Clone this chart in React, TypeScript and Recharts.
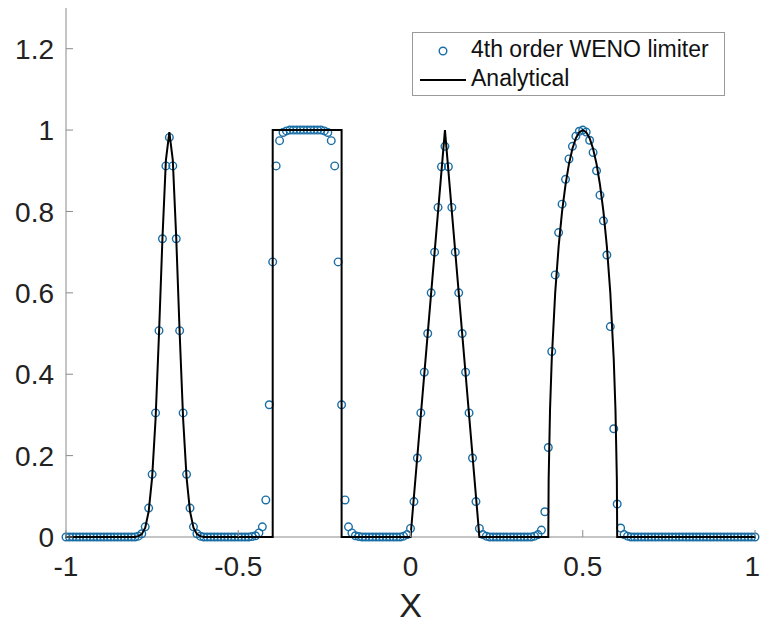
import { ComposedChart, Scatter, Line, XAxis, YAxis } from 'recharts'

// WENO solution sampled on the uniform mesh x = -1, -0.99, ..., 1 (201 cells)
const wenoY = [
  0, 0, 0, 0, 0, 0, 0, 0, 0, 0, // -1.00 .. -0.91
  0, 0, 0, 0, 0, 0, 0, 0, 0, 0, // -0.90 .. -0.81
  0, 0.002, 0.008, 0.025, 0.071, 0.154, 0.305, 0.507, 0.733, 0.912, // -0.80 .. -0.71
  0.982, 0.912, 0.733, 0.507, 0.305, 0.154, 0.071, 0.025, 0.008, 0.002, // -0.70 .. -0.61
  0, 0, 0, 0, 0, 0, 0, 0, 0, 0, // -0.60 .. -0.51
  0, 0, 0, 0, 0.001, 0.003, 0.01, 0.025, 0.091, 0.325, // -0.50 .. -0.41
  0.676, 0.912, 0.974, 0.994, 0.998, 1, 1, 1, 1, 1, // -0.40 .. -0.31
  1, 1, 1, 1, 1, 0.998, 0.994, 0.974, 0.912, 0.676, // -0.30 .. -0.21
  0.325, 0.091, 0.025, 0.01, 0.003, 0.001, 0, 0, 0, 0, // -0.20 .. -0.11
  0, 0, 0, 0, 0, 0, 0, 0, 0.002, 0.006, // -0.10 .. -0.01
  0.021, 0.087, 0.194, 0.305, 0.405, 0.5, 0.6, 0.7, 0.81, 0.91, // 0.00 .. 0.09
  0.96, 0.91, 0.81, 0.7, 0.6, 0.5, 0.405, 0.305, 0.194, 0.087, // 0.10 .. 0.19
  0.021, 0.006, 0.002, 0, 0, 0, 0, 0, 0, 0, // 0.20 .. 0.29
  0, 0, 0, 0, 0, 0, 0.002, 0.006, 0.017, 0.062, // 0.30 .. 0.39
  0.22, 0.456, 0.644, 0.748, 0.818, 0.879, 0.929, 0.96, 0.985, 0.997, // 0.40 .. 0.49
  1, 0.995, 0.975, 0.945, 0.9, 0.84, 0.777, 0.693, 0.517, 0.266, // 0.50 .. 0.59
  0.081, 0.022, 0.006, 0.002, 0, 0, 0, 0, 0, 0, // 0.60 .. 0.69
  0, 0, 0, 0, 0, 0, 0, 0, 0, 0, // 0.70 .. 0.79
  0, 0, 0, 0, 0, 0, 0, 0, 0, 0, // 0.80 .. 0.89
  0, 0, 0, 0, 0, 0, 0, 0, 0, 0, // 0.90 .. 0.99
  0, // 1.00
]

// analytical solution: gaussian, square, triangle, ellipse
const exactX = [
  -1, -0.8, -0.79, -0.78, -0.77, -0.76, -0.75, -0.74, -0.73, -0.72, -0.71, -0.7,
  -0.69, -0.68, -0.67, -0.66, -0.65, -0.64, -0.63, -0.62, -0.61, -0.6,
  -0.4, -0.4, -0.2, -0.2,
  0, 0.1, 0.2,
  0.4, 0.401, 0.405, 0.41, 0.42, 0.43, 0.44, 0.45, 0.46, 0.47, 0.48, 0.49, 0.5,
  0.51, 0.52, 0.53, 0.54, 0.55, 0.56, 0.57, 0.58, 0.59, 0.595, 0.599, 0.6,
  1,
]
const exactY = [
  0, 0, 0.002, 0.007, 0.023, 0.063, 0.146, 0.29, 0.5, 0.735, 0.926, 0.995,
  0.926, 0.735, 0.5, 0.29, 0.146, 0.063, 0.023, 0.007, 0.002, 0,
  0, 1, 1, 0,
  0, 1, 0,
  0, 0.141, 0.312, 0.436, 0.6, 0.714, 0.8, 0.866, 0.917, 0.954, 0.98, 0.995, 1,
  0.995, 0.98, 0.954, 0.917, 0.866, 0.8, 0.714, 0.6, 0.436, 0.312, 0.141, 0,
  0,
]

const xTicks = [-1, -0.5, 0, 0.5, 1]
const yTicks = [0, 0.2, 0.4, 0.6, 0.8, 1, 1.2]

const wenoData = wenoY.map((y, i) => ({ x: Math.round(i - 100) / 100, y }))
const exactData = exactX.map((x, i) => ({ x, y: exactY[i] }))

const W = 761
const H = 626
const LEFT = 66
const RIGHT = 755
const TOP = 8
const BOTTOM = 537
const TICK = 7
const AXIS = '#8a8a8a'
const FONT = '"Liberation Sans", Arial, Helvetica, sans-serif'
const BLUE = '#1a6ea6'

const BottomTick = (props: any) => {
  const { x, y, payload } = props
  // last label would run past the window edge, so pin its right side to it
  const last = payload.value === 1
  return (
    <g>
      <line x1={x} x2={x} y1={BOTTOM} y2={BOTTOM - TICK} stroke={AXIS} />
      <text
        x={last ? W - 1 : x}
        y={y}
        dy="0.71em"
        textAnchor={last ? 'end' : 'middle'}
        fontSize={28}
        fontFamily={FONT}
        fill="#222"
      >
        {String(payload.value)}
      </text>
    </g>
  )
}

const LeftTick = (props: any) => {
  const { x, y, payload } = props
  return (
    <g>
      <line x1={LEFT} x2={LEFT + TICK} y1={y} y2={y} stroke={AXIS} />
      <text x={x} y={y} dy="0.36em" textAnchor="end" fontSize={28} fontFamily={FONT} fill="#222">
        {String(payload.value)}
      </text>
    </g>
  )
}

const TopTick = (props: any) => (
  <line x1={props.x} x2={props.x} y1={TOP} y2={TOP + TICK} stroke={AXIS} />
)

const RightTick = (props: any) => (
  <line x1={RIGHT} x2={RIGHT - TICK} y1={props.y} y2={props.y} stroke={AXIS} />
)

const Ring = (props: any) => (
  <circle cx={props.cx} cy={props.cy} r={3.8} fill="none" stroke={BLUE} strokeWidth={1.4} />
)

export default function App() {
  return (
    <div style={{ position: 'absolute', left: 0, top: 0, width: W, height: H, background: '#fff' }}>
      <ComposedChart
        width={W}
        height={H}
        margin={{ top: TOP, right: W - RIGHT, left: 0, bottom: 0 }}
      >
        <XAxis
          xAxisId="b"
          dataKey="x"
          type="number"
          domain={[-1, 1]}
          ticks={xTicks}
          height={H - BOTTOM}
          stroke={AXIS}
          tickLine={false}
          tickSize={0}
          tickMargin={19}
          tick={BottomTick}
          label={{ value: 'X', position: 'insideBottom', offset: 9, fontSize: 34, fontFamily: FONT, fill: '#222' }}
        />
        <XAxis
          xAxisId="t"
          orientation="top"
          type="number"
          domain={[-1, 1]}
          ticks={xTicks}
          height={0}
          stroke={AXIS}
          tickLine={false}
          tickSize={0}
          tick={TopTick}
        />
        <YAxis
          yAxisId="l"
          type="number"
          domain={[0, 1.3]}
          ticks={yTicks}
          width={LEFT}
          stroke={AXIS}
          tickLine={false}
          tickSize={0}
          tickMargin={12}
          tick={LeftTick}
        />
        <YAxis
          yAxisId="r"
          orientation="right"
          type="number"
          domain={[0, 1.3]}
          ticks={yTicks}
          width={0}
          stroke={AXIS}
          tickLine={false}
          tickSize={0}
          tick={RightTick}
        />
        <Scatter
          xAxisId="b"
          yAxisId="l"
          data={wenoData}
          dataKey="y"
          shape={Ring}
          isAnimationActive={false}
        />
        <Line
          xAxisId="b"
          yAxisId="l"
          data={exactData}
          dataKey="y"
          type="linear"
          stroke="#000"
          strokeWidth={2}
          dot={false}
          activeDot={false}
          isAnimationActive={false}
          zIndex={700}
        />
      </ComposedChart>
      <div
        style={{
          position: 'absolute',
          left: 412,
          top: 32,
          width: 311,
          height: 62,
          border: '1px solid #9a9a9a',
          background: '#fff',
          fontFamily: FONT,
          fontSize: 23,
          color: '#111',
        }}
      >
        <svg width={60} height={62} style={{ position: 'absolute', left: 0, top: 0 }}>
          <circle cx={30} cy={18} r={3.8} fill="none" stroke={BLUE} strokeWidth={1.4} />
          <line x1={7} x2={53} y1={47} y2={47} stroke="#000" strokeWidth={2} />
        </svg>
        <div style={{ position: 'absolute', left: 58, top: 3, whiteSpace: 'nowrap' }}>4th order WENO limiter</div>
        <div style={{ position: 'absolute', left: 58, top: 32, whiteSpace: 'nowrap' }}>Analytical</div>
      </div>
    </div>
  )
}
